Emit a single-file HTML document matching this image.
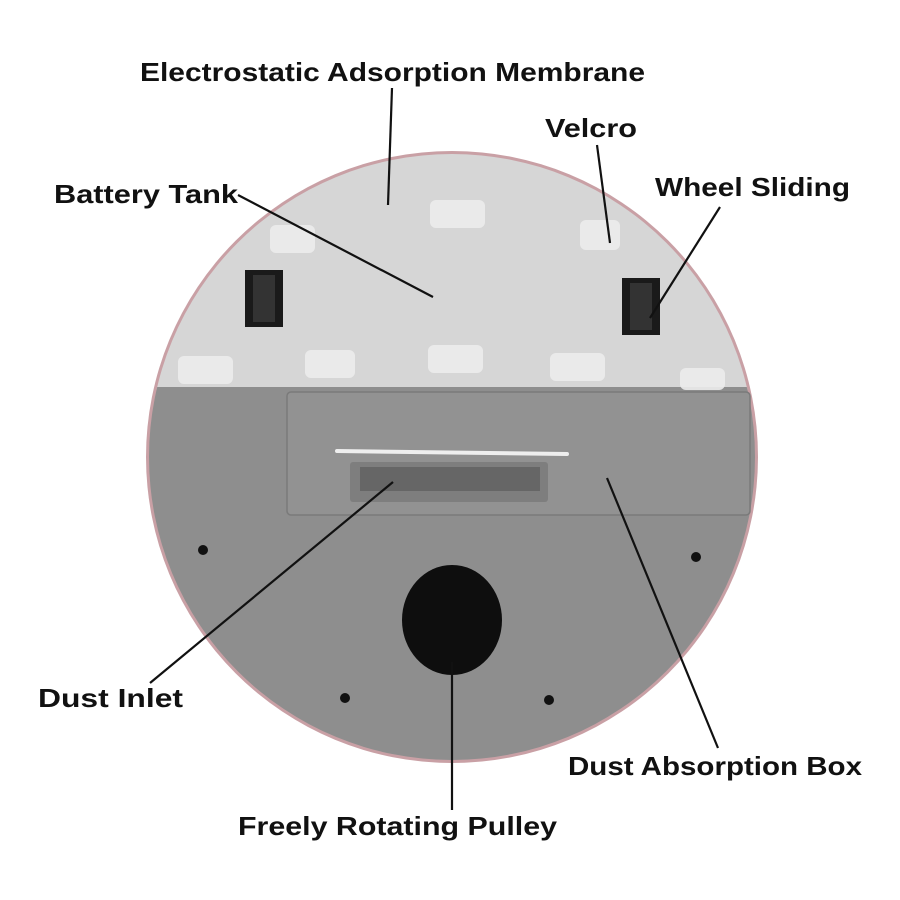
<!DOCTYPE html>
<html><head><meta charset="utf-8"><style>html,body{margin:0;padding:0;background:#fff}svg{display:block}</style></head>
<body>
<svg width="900" height="900" viewBox="0 0 900 900" xmlns="http://www.w3.org/2000/svg">
<defs>
<clipPath id="c"><circle cx="452" cy="457" r="303"/></clipPath>
</defs>
<circle cx="452" cy="457" r="306" fill="#c9a0a5"/>
<g clip-path="url(#c)">
<rect x="140" y="140" width="620" height="250" fill="#d6d6d6"/>
<rect x="750" y="140" width="20" height="250" fill="#c9a0a5"/>
<rect x="140" y="387" width="620" height="400" fill="#8e8e8e"/>
<g fill="#ececec" opacity="0.9">
<rect x="430" y="200" width="55" height="28" rx="6"/>
<rect x="270" y="225" width="45" height="28" rx="6"/>
<rect x="580" y="220" width="40" height="30" rx="6"/>
<rect x="178" y="356" width="55" height="28" rx="6"/>
<rect x="305" y="350" width="50" height="28" rx="6"/>
<rect x="428" y="345" width="55" height="28" rx="6"/>
<rect x="550" y="353" width="55" height="28" rx="6"/>
<rect x="680" y="368" width="45" height="22" rx="6"/>
</g>
</g>
<rect x="245" y="270" width="38" height="57" fill="#1a1a1a"/>
<rect x="253" y="275" width="22" height="47" fill="#333"/>
<rect x="622" y="278" width="38" height="57" fill="#1a1a1a"/>
<rect x="630" y="283" width="22" height="47" fill="#333"/>
<rect x="287" y="392" width="463" height="123" rx="4" fill="#929292" stroke="#7a7a7a" stroke-width="1.5"/>
<line x1="337" y1="451" x2="567" y2="454" stroke="#eee" stroke-width="4" stroke-linecap="round"/>
<rect x="350" y="462" width="198" height="40" rx="3" fill="#7e7e7e"/>
<rect x="360" y="467" width="180" height="24" fill="#666"/>
<ellipse cx="452" cy="620" rx="50" ry="55" fill="#0e0e0e"/>
<g fill="#111"><circle cx="203" cy="550" r="5"/><circle cx="696" cy="557" r="5"/><circle cx="345" cy="698" r="5"/><circle cx="549" cy="700" r="5"/></g>
<g stroke="#111" stroke-width="2.2" fill="none">
<line x1="392" y1="88" x2="388" y2="205"/>
<line x1="597" y1="145" x2="610" y2="243"/>
<line x1="720" y1="207" x2="650" y2="318"/>
<line x1="238" y1="195" x2="433" y2="297"/>
<line x1="150" y1="683" x2="393" y2="482"/>
<line x1="607" y1="478" x2="718" y2="748"/>
<line x1="452" y1="662" x2="452" y2="810"/>
</g>
<g font-family="Liberation Sans, sans-serif" font-weight="bold" font-size="26" fill="#111">
<text x="140" y="81" textLength="505" lengthAdjust="spacingAndGlyphs">Electrostatic Adsorption Membrane</text>
<text x="545" y="137" textLength="92" lengthAdjust="spacingAndGlyphs">Velcro</text>
<text x="655" y="196" textLength="195" lengthAdjust="spacingAndGlyphs">Wheel Sliding</text>
<text x="54" y="203" textLength="184" lengthAdjust="spacingAndGlyphs">Battery Tank</text>
<text x="38" y="707" textLength="145" lengthAdjust="spacingAndGlyphs">Dust Inlet</text>
<text x="568" y="775" textLength="294" lengthAdjust="spacingAndGlyphs">Dust Absorption Box</text>
<text x="238" y="835" textLength="319" lengthAdjust="spacingAndGlyphs">Freely Rotating Pulley</text>
</g>
</svg>
</body></html>
